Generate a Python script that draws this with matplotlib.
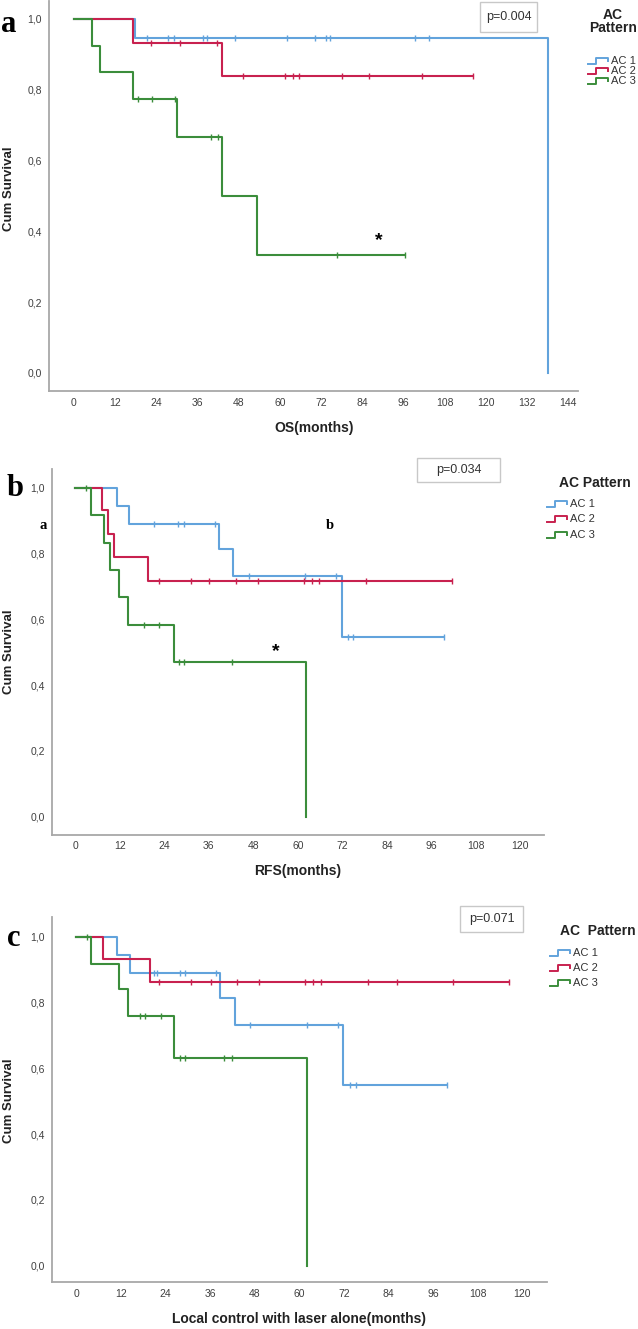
import numpy as np
import matplotlib.pyplot as plt
from matplotlib.patches import Rectangle
from matplotlib.lines import Line2D

plt.rcParams['font.family'] = ['Liberation Sans', 'DejaVu Sans']

W, H = 638, 1329  # pixels

groups = ['AC 1', 'AC 2', 'AC 3']
colors = ['#62a3dc', '#c8214f', '#3b8d3b']

# ---- panel a : OS ----
os_times = [[17.8, 138], [17.3, 43.2], [5.3, 7.6, 17.3, 30.1, 43.0, 53.2]]
os_surv = [[0.946, 0.0], [0.931, 0.838], [0.925, 0.85, 0.775, 0.667, 0.5, 0.333]]
os_cens = [[21.2, 27.5, 29.1, 37.5, 38.9, 46.9, 62, 70.2, 73.4, 74.6, 99.4, 103.6],
           [22.4, 30.9, 41.8, 49.2, 61.5, 63.7, 65.7, 78.2, 86, 101.3, 116.2],
           [18.6, 22.6, 29.4, 39.8, 42.1, 76.7, 96.6]]
os_end = [138, 116.2, 96.6]

# ---- panel b : RFS ----
rfs_times = [[11.3, 14.5, 38.7, 42.6, 71.8], [7.1, 8.7, 10.5, 19.7],
             [4.2, 7.7, 9.2, 11.8, 14.1, 26.6, 62.3]]
rfs_surv = [[0.944, 0.889, 0.813, 0.733, 0.547], [0.933, 0.86, 0.791, 0.717],
            [0.917, 0.833, 0.75, 0.667, 0.583, 0.47, 0.0]]
rfs_cens = [[21.3, 27.6, 29.3, 37.7, 46.8, 61.9, 70.2, 73.6, 75, 99.4],
            [22.6, 31.1, 36.1, 43.2, 49.2, 61.7, 63.7, 65.8, 78.3, 101.5],
            [2.9, 18.6, 22.6, 28, 29.3, 42.1]]
rfs_end = [99.4, 101.5, 62.3]

# ---- panel c : local control with laser alone ----
lc_times = [[11.1, 14.5, 38.7, 42.8, 71.9], [7.2, 19.9], [3.9, 11.6, 14.0, 26.3, 62.1]]
lc_surv = [[0.944, 0.889, 0.813, 0.732, 0.549], [0.933, 0.862],
           [0.917, 0.84, 0.758, 0.631, 0.0]]
lc_cens = [[21, 21.7, 27.8, 29.3, 37.6, 46.8, 62.1, 70.4, 73.7, 75.2, 99.7],
           [22.4, 30.9, 36.2, 43.4, 49.2, 61.6, 63.8, 65.8, 78.5, 86.3, 101.5, 116.6],
           [2.9, 17.2, 18.5, 22.8, 28, 29.3, 39.8, 42]]
lc_end = [99.7, 116.6, 62.1]

p_values = ['p=0.004', 'p=0.034', 'p=0.071']
x_labels = ['OS(months)', 'RFS(months)', 'Local control with laser alone(months)']
x_max_tick = [144, 120, 120]


def fx(x):
    return x / W


def fy(y):
    return 1 - y / H


def km_draw(ax, times, surv, cens, end, color):
    x = [0] + list(times)
    y = [1.0] + list(surv)
    if end > times[-1]:
        x.append(end)
        y.append(surv[-1])
    ax.step(x, y, where='post', color=color, lw=1.5)
    idx = np.searchsorted(times, cens, side='right')
    cy = np.r_[1.0, surv][idx]
    ax.plot(cens, cy, ls='none', marker='|', ms=5, mew=1.0, color=color)


fig = plt.figure(figsize=(W / 100, H / 100), dpi=100)

# axes boxes in pixels: left, top, right, bottom ; limits
panels = [
    dict(box=(48.9, 1.3, 578.4, 390.7), xlim=(-7.3, 147), ylim=(-0.05, 1.05),
         data=(os_times, os_surv, os_cens, os_end)),
    dict(box=(51.7, 469, 544.4, 834.5), xlim=(-6.4, 126.5), ylim=(-0.054, 1.057),
         data=(rfs_times, rfs_surv, rfs_cens, rfs_end)),
    dict(box=(51.7, 917, 547.0, 1282.2), xlim=(-6.6, 126.7), ylim=(-0.05, 1.06),
         data=(lc_times, lc_surv, lc_cens, lc_end)),
]

axes = []
for i, pnl in enumerate(panels):
    l, t, r, b = pnl['box']
    ax = fig.add_axes([fx(l), fy(b), (r - l) / W, (b - t) / H])
    times, surv, cens, end = pnl['data']
    for g in range(3):
        km_draw(ax, times[g], surv[g], cens[g], end[g], colors[g])
    ax.set_xlim(*pnl['xlim'])
    ax.set_ylim(*pnl['ylim'])
    ax.set_xticks(np.arange(0, x_max_tick[i] + 1, 12))
    ax.set_yticks(np.arange(0, 1.01, 0.2))
    ax.set_yticklabels([f'{v:.1f}'.replace('.', ',') for v in np.arange(0, 1.01, 0.2)])
    for s in ['top', 'right']:
        ax.spines[s].set_visible(False)
    for s in ['left', 'bottom']:
        ax.spines[s].set_color('#a8a8a8')
        ax.spines[s].set_linewidth(1.3)
    ax.tick_params(length=0, labelsize=7.5, labelcolor='#404040', pad=5)
    axes.append(ax)

    # axis labels
    fig.text(fx((l + r) / 2), fy(b + 37), x_labels[i], ha='center', va='center',
             fontsize=10, fontweight='bold', color='#222222')

# y labels
for yc in [189, 652, 1101]:
    fig.text(fx(9), fy(yc), 'Cum Survival', rotation=90, ha='center', va='center',
             fontsize=9.5, fontweight='bold', color='#222222')

# p value boxes
p_boxes = [(480, 2, 537, 32), (417, 458, 500, 482), (460, 906, 523, 932)]
for txt, (x0, y0, x1, y1) in zip(p_values, p_boxes):
    fig.patches.append(Rectangle((fx(x0), fy(y1)), (x1 - x0) / W, (y1 - y0) / H,
                                 transform=fig.transFigure, fill=False,
                                 edgecolor='#c8c8c8', lw=1.0))
    fig.text(fx((x0 + x1) / 2), fy((y0 + y1) / 2), txt, ha='center', va='center',
             fontsize=9, color='#333333')

# legends
def legend(title_lines, title_x, title_ys, hx, entry_ys):
    for tl, ty in zip(title_lines, title_ys):
        fig.text(fx(title_x), fy(ty), tl, ha='center', va='center',
                 fontsize=10, fontweight='bold', color='#222222')
    for g, ey in enumerate(entry_ys):
        xs = np.array([0, 0.4, 0.4, 1.0, 1.0]) * 20 + hx
        ys = ey + 2.5 - np.array([0, 0, 1.0, 1.0, 0.5]) * 5.5
        fig.lines.append(Line2D(fx(xs), fy(ys), transform=fig.transFigure,
                                color=colors[g], lw=1.4))
        fig.text(fx(hx + 23), fy(ey), groups[g], ha='left', va='center',
                 fontsize=8, color='#333333')

legend(['AC', 'Pattern'], 613, [15, 28], 588, [61, 71, 81])
legend(['AC Pattern'], 595, [483], 547, [504, 519, 535])
legend(['AC  Pattern'], 598, [931], 550, [953, 968, 983])

# panel letters
for letter, (lx, ly) in zip('abc', [(8.5, 24), (15, 488), (13.5, 939)]):
    fig.text(fx(lx), fy(ly), letter, ha='center', va='center', fontsize=22,
             fontweight='bold', family=['Liberation Serif', 'DejaVu Serif'])

# extra annotations
axes[1].text(-8.7, 0.884, 'a', ha='center', va='center', fontsize=10.5,
             fontweight='bold', family=['Liberation Serif', 'DejaVu Serif'], clip_on=False)
axes[1].text(68.5, 0.884, 'b', ha='center', va='center', fontsize=10.5,
             fontweight='bold', family=['Liberation Serif', 'DejaVu Serif'])
axes[0].text(88.9, 0.374, '*', ha='center', va='center', fontsize=14, fontweight='bold')
axes[1].text(54.1, 0.502, '*', ha='center', va='center', fontsize=14, fontweight='bold')

fig.savefig('out.png', dpi=100)
